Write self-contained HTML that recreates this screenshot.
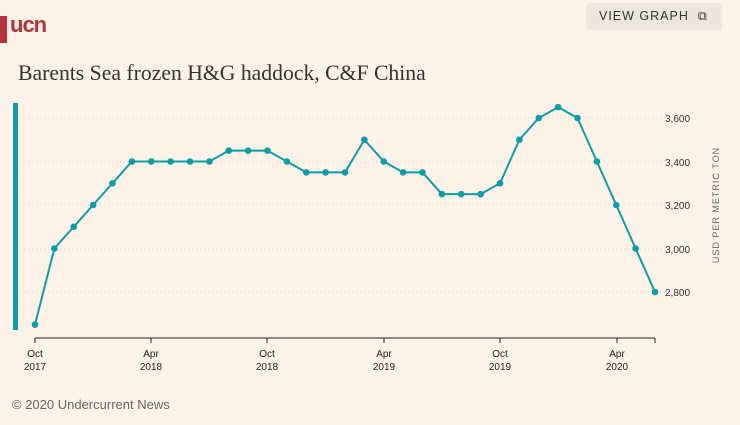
<!DOCTYPE html>
<html><head><style>
body{margin:0;width:740px;height:425px;background:#fcf2e8;overflow:hidden;font-family:"Liberation Sans",sans-serif;position:relative}
.logo{position:absolute;left:0;top:16px;width:7px;height:27px;background:#b5323a}
.logot{position:absolute;left:10px;top:12px;font:bold 22px "Liberation Sans",sans-serif;color:#b5323a;letter-spacing:-1px}
.btn{position:absolute;left:586px;top:3px;width:136px;height:27px;background:#ede6dd;border-radius:3px;font-size:12.5px;color:#333;letter-spacing:1px;line-height:27px;padding-left:13px;box-sizing:border-box}
.title{position:absolute;left:18px;top:61px;font:21.7px "Liberation Serif",serif;color:#333}
.foot{position:absolute;left:12px;top:397px;font-size:13px;color:#666}
</style></head><body>
<div class="logo"></div><div class="logot">ucn</div>
<div class="btn">VIEW GRAPH &nbsp;⧉</div>
<div class="title">Barents Sea frozen H&amp;G haddock, C&amp;F China</div>
<svg width="740" height="425" style="position:absolute;left:0;top:0">
<rect x="13" y="103" width="5" height="227" fill="#0e9ca5"/>
<g stroke="#d8d0c6" stroke-dasharray="1,3">
<line x1="20" x2="665" y1="118" y2="118"/><line x1="20" x2="665" y1="162" y2="162"/><line x1="20" x2="665" y1="205" y2="205"/><line x1="20" x2="665" y1="249" y2="249"/><line x1="20" x2="665" y1="292" y2="292"/>
</g>
<g font-size="10" fill="#333">
<text x="665" y="122">3,600</text><text x="665" y="166">3,400</text><text x="665" y="209">3,200</text><text x="665" y="253">3,000</text><text x="665" y="296">2,800</text>
</g>
<text transform="translate(719,205) rotate(-90)" text-anchor="middle" font-size="9" fill="#666" letter-spacing="1">USD PER METRIC TON</text>
<g stroke="#222" stroke-width="1">
<line x1="35" x2="655" y1="338" y2="338"/>
<line x1="35" x2="35" y1="338" y2="343"/><line x1="151" x2="151" y1="338" y2="343"/><line x1="267" x2="267" y1="338" y2="343"/><line x1="384" x2="384" y1="338" y2="343"/><line x1="500" x2="500" y1="338" y2="343"/><line x1="617" x2="617" y1="338" y2="343"/><line x1="655" x2="655" y1="338" y2="343"/>
</g>
<g font-size="10" fill="#222" text-anchor="middle">
<text x="35" y="357">Oct</text><text x="35" y="370">2017</text>
<text x="151" y="357">Apr</text><text x="151" y="370">2018</text>
<text x="267" y="357">Oct</text><text x="267" y="370">2018</text>
<text x="384" y="357">Apr</text><text x="384" y="370">2019</text>
<text x="500" y="357">Oct</text><text x="500" y="370">2019</text>
<text x="617" y="357">Apr</text><text x="617" y="370">2020</text>
</g>
<g id="s"></g>
</svg>
<div class="foot">© 2020 Undercurrent News</div>
<script>
var v=[2650,3000,3100,3200,3300,3400,3400,3400,3400,3400,3450,3450,3450,3400,3350,3350,3350,3500,3400,3350,3350,3250,3250,3250,3300,3500,3600,3650,3600,3400,3200,3000,2800];
var p=v.map(function(d,i){return [35+i*19.375,292-(d-2800)*0.2175]});
var h='<polyline fill="none" stroke="#0e9ca5" stroke-width="2" points="'+p.map(function(q){return q.join(',')}).join(' ')+'"/>';
p.forEach(function(q){h+='<circle cx="'+q[0]+'" cy="'+q[1]+'" r="3.3" fill="#0e9ca5"/>'});
document.getElementById('s').innerHTML=h;
</script>
</body></html>
